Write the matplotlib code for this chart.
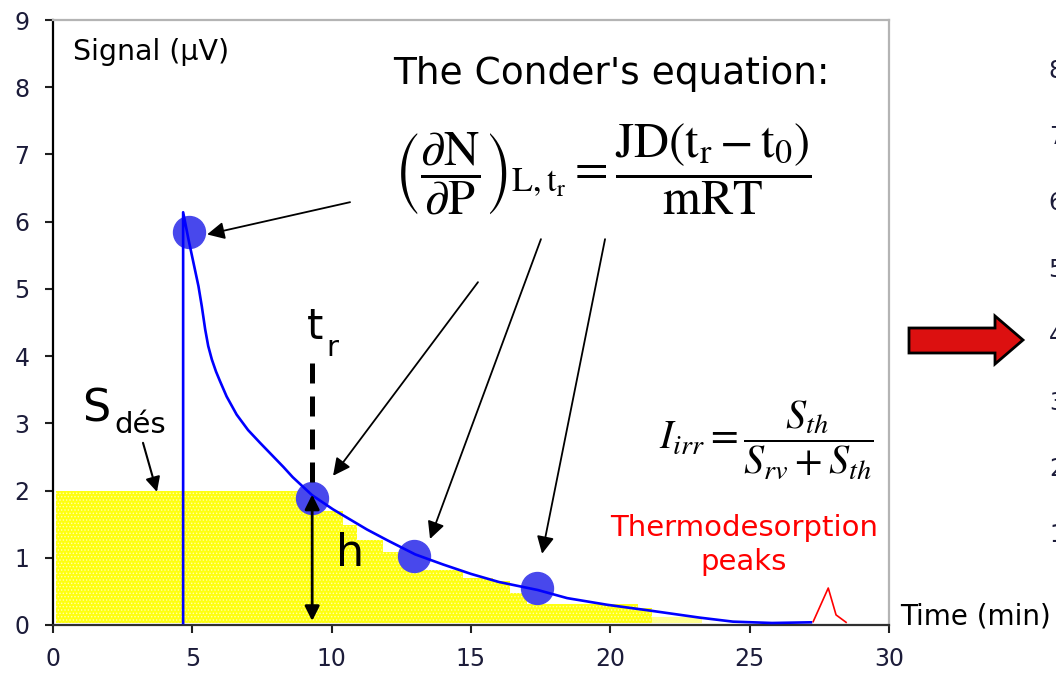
import matplotlib.pyplot as plt
from matplotlib.patches import Polygon

# desorption signal (uV) against time (min)
time = [4.67, 4.67, 4.86, 5.04, 5.22, 5.34, 5.46, 5.57, 5.70, 5.85, 5.99, 6.23, 6.59, 7.0,
        7.43, 8.27, 8.6, 9.3, 10.05, 11.27, 12.0, 13.0, 14.0, 15.0, 16.0, 17.4, 18.45, 19.9,
        21.5, 23.2, 24.4, 25.8, 27.2]
signal = [0.03, 6.14, 5.74, 5.39, 5.04, 4.74, 4.40, 4.15, 3.95, 3.77, 3.63, 3.40, 3.13, 2.90,
          2.71, 2.35, 2.2, 1.93, 1.72, 1.42, 1.26, 1.05, 0.90, 0.76, 0.64, 0.52, 0.40, 0.30,
          0.21, 0.11, 0.05, 0.03, 0.04]

# points used in the Conder analysis
dot_time = [4.88, 9.3, 12.96, 17.36]
dot_signal = [5.84, 1.89, 1.02, 0.55]

# desorbed area S_des (stepped)
area_edges = [0.1, 9.3, 10.4, 10.9, 11.85, 12.96, 14.7, 15.8, 16.4, 17.0, 21.0, 21.5]
area_heights = [2.0, 1.70, 1.49, 1.27, 1.09, 0.82, 0.70, 0.66, 0.47, 0.31, 0.25]
tail_edges = [21.5, 23.3]
tail_heights = [0.12]

# thermodesorption peak
peak_time = [27.28, 27.82, 28.1, 28.46]
peak_signal = [0.05, 0.55, 0.15, 0.04]

x_ticks = [0, 5, 10, 15, 20, 25, 30]
y_ticks = [0, 1, 2, 3, 4, 5, 6, 7, 8, 9]
next_ticks = [1, 2, 3, 4, 5, 6, 7, 8]

plt.rcParams['font.family'] = 'DejaVu Sans'
plt.rcParams['hatch.linewidth'] = 0.6
W, H = 1056, 675
tick_color = '#1c1c3a'

fig = plt.figure(figsize=(W / 100, H / 100), dpi=100)
ax = fig.add_axes([53 / W, 50 / H, 836 / W, 605 / H])
ax.set_xlim(0, 30)
ax.set_ylim(0, 9)
ax.set_xticks(x_ticks)
ax.set_yticks(y_ticks)
ax.tick_params(direction='out', length=6, width=1.5, labelsize=17,
               labelcolor=tick_color, color='#202020')
ax.tick_params(axis='y', pad=11)
ax.tick_params(axis='x', pad=10)
ax.spines['left'].set_linewidth(1.6)
ax.spines['left'].set_color('black')
ax.spines['bottom'].set_linewidth(1.6)
ax.spines['bottom'].set_color('#303030')
for side in ['top', 'right']:
    ax.spines[side].set_color('#b4b4b4')
    ax.spines[side].set_linewidth(1.6)

# yellow area
ax.stairs(area_heights, area_edges, baseline=0.03, fill=True, facecolor='#ffff10',
          edgecolor='#ffffa8', hatch='.....', linewidth=0, zorder=1)
ax.stairs(tail_heights, tail_edges, baseline=0.03, fill=True, facecolor='#ffff90',
          linewidth=0, zorder=1)

# dots then the signal line on top
ax.plot(dot_time, dot_signal, 'o', color='#4848ec', markersize=23, zorder=3)
ax.plot(time, signal, color='#0000ff', lw=1.9, zorder=4)
ax.plot(peak_time, peak_signal, color='#ff0000', lw=1.2, zorder=4)

# retention time and height
ax.vlines(dot_time[1], 2.13, 3.95, color='black', lw=3.6, linestyles=(0, (4, 2.6)), zorder=5)
ax.annotate('', xy=(dot_time[1], 0.06), xytext=(dot_time[1], dot_signal[1] + 0.05),
            arrowprops=dict(arrowstyle='<|-|>', color='black', lw=2, mutation_scale=22,
                            shrinkA=0, shrinkB=0), zorder=5)
ax.text(9.11, 4.25, 't', fontsize=30, va='baseline', ha='left')
ax.text(9.8, 4.0, 'r', fontsize=21, va='baseline', ha='left')
ax.text(10.15, 1.06, 'h', fontsize=32, va='center', ha='left')

# S_des label
ax.text(1.05, 3.03, 'S', fontsize=32, va='baseline', ha='left')
ax.text(2.2, 2.86, 'dés', fontsize=21, va='baseline', ha='left')
ax.annotate('', xy=(3.73, 1.98), xytext=(3.23, 2.71),
            arrowprops=dict(arrowstyle='-|>', color='black', lw=1.5, mutation_scale=22,
                            shrinkA=0, shrinkB=0))

# arrows from the equation to the points
arrow_starts = [(10.66, 6.29), (15.25, 5.10), (17.51, 5.74), (19.81, 5.74)]
arrow_ends = [(5.53, 5.81), (10.05, 2.22), (13.53, 1.28), (17.55, 1.06)]
for start, end in zip(arrow_starts, arrow_ends):
    ax.annotate('', xy=end, xytext=start,
                arrowprops=dict(arrowstyle='-|>', color='black', lw=1.3, mutation_scale=26,
                                shrinkA=0, shrinkB=0))

ax.text(0.7, 8.52, 'Signal (μV)', fontsize=20.5, va='center', ha='left')
ax.text(20.05, 8.05, "The Conder's equation:", fontsize=27, va='baseline', ha='center')
ax.text(19.75, 6.78,
        r'$\left(\dfrac{\partial \mathrm{N}}{\partial \mathrm{P}}\right)_{\mathrm{L,t_r}}'
        r' = \dfrac{\mathrm{JD}\left(\mathrm{t_r}-\mathrm{t_0}\right)}{\mathrm{mRT}}$',
        fontsize=35, math_fontfamily='stix', va='center', ha='center')
ax.text(25.62, 2.76, r'$I_{irr} = \dfrac{S_{th}}{S_{rv}+S_{th}}$',
        fontsize=29, math_fontfamily='stix', va='center', ha='center')
ax.text(24.79, 1.19, 'Thermodesorption\npeaks', fontsize=21, color='#ff0000',
        va='center', ha='center', multialignment='center', linespacing=1.3)
ax.text(30.39, 0.12, 'Time (min)', fontsize=20, va='center', ha='left', clip_on=False)

# red arrow pointing to the next chart
arrow_px = [(909, 328), (995, 328), (995, 316), (1023, 340), (995, 364), (995, 353), (909, 353)]
fig.add_artist(Polygon([(x / W, 1 - y / H) for x, y in arrow_px], closed=True,
                       facecolor='#dc1010', edgecolor='black', lw=2,
                       transform=fig.transFigure))

# tick labels of the next chart, cut by the edge
ax2 = fig.add_axes([1068 / W, 76 / H, 10 / W, 597 / H])
ax2.set_ylim(0, 9)
ax2.set_yticks(next_ticks)
ax2.set_xticks([])
ax2.tick_params(length=0, pad=3, labelsize=17, labelcolor=tick_color)
for s in ax2.spines.values():
    s.set_visible(False)
ax2.patch.set_visible(False)

fig.savefig('out.png', dpi=100)
